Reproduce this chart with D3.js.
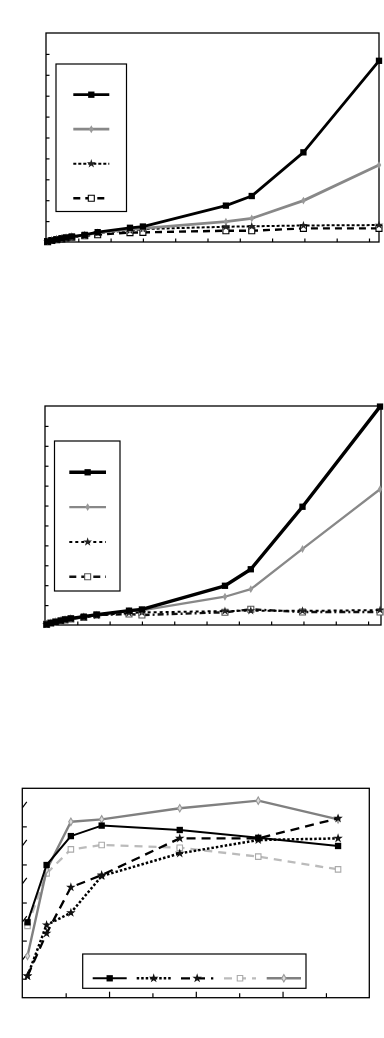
<!DOCTYPE html>
<html>
<head>
<meta charset="utf-8">
<script src="https://cdn.jsdelivr.net/npm/d3@7"></script>
<style>
  body { margin: 0; background: #fff; }
  svg { display: block; }
</style>
</head>
<body>
<svg id="chart"></svg>
<script>
// top panel
const topX = [0.05, 0.18, 0.33, 0.49, 0.62, 0.8, 1.2, 1.6, 2.6, 3.0, 5.57, 6.37, 7.97, 10.31];
const topA = [0.02, 0.07, 0.12, 0.17, 0.21, 0.26, 0.34, 0.47, 0.68, 0.74, 1.74, 2.2, 4.29, 8.67];
const topB = [0.02, 0.07, 0.12, 0.16, 0.2, 0.25, 0.33, 0.45, 0.6, 0.65, 0.97, 1.13, 1.98, 3.68];
const topC = [0.02, 0.07, 0.12, 0.16, 0.2, 0.25, 0.32, 0.43, 0.55, 0.62, 0.73, 0.75, 0.79, 0.81];
const topD = [0.02, 0.07, 0.11, 0.15, 0.19, 0.23, 0.3, 0.35, 0.45, 0.46, 0.54, 0.54, 0.65, 0.65];

// middle panel
const midX = [0.05, 0.18, 0.33, 0.49, 0.62, 0.8, 1.2, 1.6, 2.6, 3.0, 5.57, 6.37, 7.97, 10.37];
const midA = [0.03, 0.1, 0.16, 0.22, 0.28, 0.33, 0.42, 0.52, 0.72, 0.78, 1.97, 2.8, 5.94, 10.97];
const midB = [0.03, 0.1, 0.16, 0.22, 0.28, 0.33, 0.42, 0.52, 0.7, 0.74, 1.42, 1.8, 3.82, 6.82];
const midC = [0.03, 0.1, 0.16, 0.21, 0.26, 0.31, 0.4, 0.48, 0.6, 0.63, 0.7, 0.72, 0.71, 0.75];
const midD = [0.03, 0.1, 0.15, 0.2, 0.25, 0.3, 0.38, 0.5, 0.55, 0.5, 0.64, 0.79, 0.65, 0.65];

// bottom panel
const botX = [0.12, 0.56, 1.12, 1.83, 3.63, 5.44, 7.28];
const bot1 = [3.96, 6.97, 8.49, 9.04, 8.81, 8.40, 7.97];
const bot2 = [1.14, 3.82, 4.46, 6.39, 7.58, 8.28, 8.37];
const bot3 = [1.14, 3.38, 5.80, 6.44, 8.37, 8.37, 9.42];
const bot4 = [3.77, 6.53, 7.79, 8.02, 7.88, 7.41, 6.74];
const bot5 = [2.19, 6.71, 9.24, 9.37, 9.95, 10.35, 9.37];

const svg = d3.select("#chart")
    .attr("width", 384)
    .attr("height", 1038);

svg.append("rect")
    .attr("width", 384)
    .attr("height", 1038)
    .attr("fill", "#fff");

// box with inward ticks
function panel(left, right, top, bottom, xMax, yMax, xTickVals, yTickVals, tickLen) {
    const g = svg.append("g");
    const x = d3.scaleLinear().domain([0, xMax]).range([left, right]);
    const y = d3.scaleLinear().domain([0, yMax]).range([bottom, top]);

    g.append("g")
        .attr("transform", `translate(0,${bottom})`)
        .call(d3.axisBottom(x).tickValues(xTickVals).tickSize(-tickLen).tickFormat(""))
        .call(a => a.select(".domain").remove());
    g.append("g")
        .attr("transform", `translate(${left},0)`)
        .call(d3.axisLeft(y).tickValues(yTickVals).tickSize(-tickLen).tickFormat(""))
        .call(a => a.select(".domain").remove());
    g.selectAll(".tick line").attr("stroke", "#000").attr("stroke-width", 1.2);

    g.append("rect")
        .attr("x", left)
        .attr("y", top)
        .attr("width", right - left)
        .attr("height", bottom - top)
        .attr("fill", "none")
        .attr("stroke", "#000")
        .attr("stroke-width", 1.3);
    return { g, x, y };
}

function marker(sel, st) {
    sel.attr("d", d3.symbol(st.shape, st.size))
        .attr("fill", st.fill)
        .attr("stroke", st.mstroke || "none")
        .attr("stroke-width", 1.1);
}

function drawSeries(p, xs, ys, st) {
    const line = d3.line()
        .x((d, i) => p.x(xs[i]))
        .y(d => p.y(d));
    p.g.append("path")
        .datum(ys)
        .attr("d", line)
        .attr("fill", "none")
        .attr("stroke", st.color)
        .attr("stroke-width", st.width)
        .attr("stroke-dasharray", st.dash)
        .attr("stroke-linejoin", "round");
    p.g.selectAll(null)
        .data(ys)
        .join("path")
        .attr("transform", (d, i) => `translate(${p.x(xs[i])},${p.y(d)})`)
        .call(marker, st);
}

function legendEntry(g, x0, x1, yy, st) {
    g.append("line")
        .attr("x1", x0).attr("x2", x1)
        .attr("y1", yy).attr("y2", yy)
        .attr("stroke", st.color)
        .attr("stroke-width", st.width)
        .attr("stroke-dasharray", st.dash);
    g.append("path")
        .attr("transform", `translate(${(x0 + x1) / 2},${yy})`)
        .call(marker, st);
}

// styles for top two panels
const sA = { color: "#000", width: 2.8, dash: null, shape: d3.symbolSquare, size: 40, fill: "#000" };
const sB = { color: "#888", width: 2.8, dash: null, shape: d3.symbolDiamond, size: 18, fill: "#999" };
const sC = { color: "#000", width: 2, dash: "3,2", shape: d3.symbolStar, size: 24, fill: "#222" };
const sD = { color: "#000", width: 2.4, dash: "7,5", shape: d3.symbolSquare, size: 36, fill: "#fff", mstroke: "#000" };

const d3range = (a, b) => d3.range(a, b + 1);

// top panel
const p1 = panel(46, 379, 33, 242, 10.31, 10, d3range(1, 10), d3range(1, 9), 3.5);
drawSeries(p1, topX, topD, sD);
drawSeries(p1, topX, topC, sC);
drawSeries(p1, topX, topB, sB);
drawSeries(p1, topX, topA, sA);
p1.g.append("rect")
    .attr("x", 56).attr("y", 64)
    .attr("width", 70.5).attr("height", 147.5)
    .attr("fill", "#fff").attr("stroke", "#000").attr("stroke-width", 1.2);
[sA, sB, sC, sD].forEach((st, i) => legendEntry(p1.g, 73.3, 109.3, 94.7 + i * 34.5, st));

// middle panel
const sD2 = Object.assign({}, sD, { dash: "6,3,2,3", color: "#111", mstroke: "#555" });
const sC2 = Object.assign({}, sC, { dash: "3,3" });
const sA2 = Object.assign({}, sA, { width: 3.4 });
const sB2 = Object.assign({}, sB, { width: 2.3 });
const p2 = panel(45, 381, 406, 625, 10.4, 11, d3range(1, 10), d3range(1, 10), 3.5);
drawSeries(p2, midX, midD, sD2);
drawSeries(p2, midX, midC, sC2);
drawSeries(p2, midX, midB, sB2);
drawSeries(p2, midX, midA, sA2);
p2.g.append("rect")
    .attr("x", 54.5).attr("y", 441)
    .attr("width", 65.5).attr("height", 150)
    .attr("fill", "#fff").attr("stroke", "#000").attr("stroke-width", 1.2);
[sA2, sB2, sC2, { ...sD2, dash: "7,5" }].forEach((st, i) => legendEntry(p2.g, 69.3, 106, 472.3 + i * 34.8, st));

// bottom panel
const b1 = { color: "#000", width: 2, dash: null, shape: d3.symbolSquare, size: 40, fill: "#000" };
const b2 = { color: "#000", width: 2.5, dash: "2.5,2", shape: d3.symbolStar, size: 28, fill: "#111" };
const b3 = { color: "#000", width: 2.3, dash: "9,6", shape: d3.symbolStar, size: 28, fill: "#111" };
const b4 = { color: "#bbb", width: 2.3, dash: "8,6", shape: d3.symbolSquare, size: 30, fill: "#fff", mstroke: "#aaa" };
const b5 = { color: "#808080", width: 2.4, dash: null, shape: d3.symbolDiamond, size: 16, fill: "#ddd", mstroke: "#999" };

const p3 = panel(22.3, 369.3, 788.3, 997.7, 8, 11, d3range(1, 7), d3range(1, 10), 4.5);
// longer ticks at even x
p3.g.selectAll("g.tick").filter(d => d % 2 === 0).select("line").attr("y2", -6);
drawSeries(p3, botX, bot4, b4);
drawSeries(p3, botX, bot5, b5);
drawSeries(p3, botX, bot3, b3);
drawSeries(p3, botX, bot2, b2);
drawSeries(p3, botX, bot1, b1);
p3.g.append("rect")
    .attr("x", 82.7).attr("y", 954)
    .attr("width", 223.3).attr("height", 34.3)
    .attr("fill", "#fff").attr("stroke", "#000").attr("stroke-width", 1.2);
[[92.7, 126.7, b1], [136.7, 170.7, b2], [181, 213.3, b3], [224, 256, b4], [266.7, 301, b5]]
    .forEach(e => legendEntry(p3.g, e[0], e[1], 978.3, e[2]));
</script>
</body>
</html>
